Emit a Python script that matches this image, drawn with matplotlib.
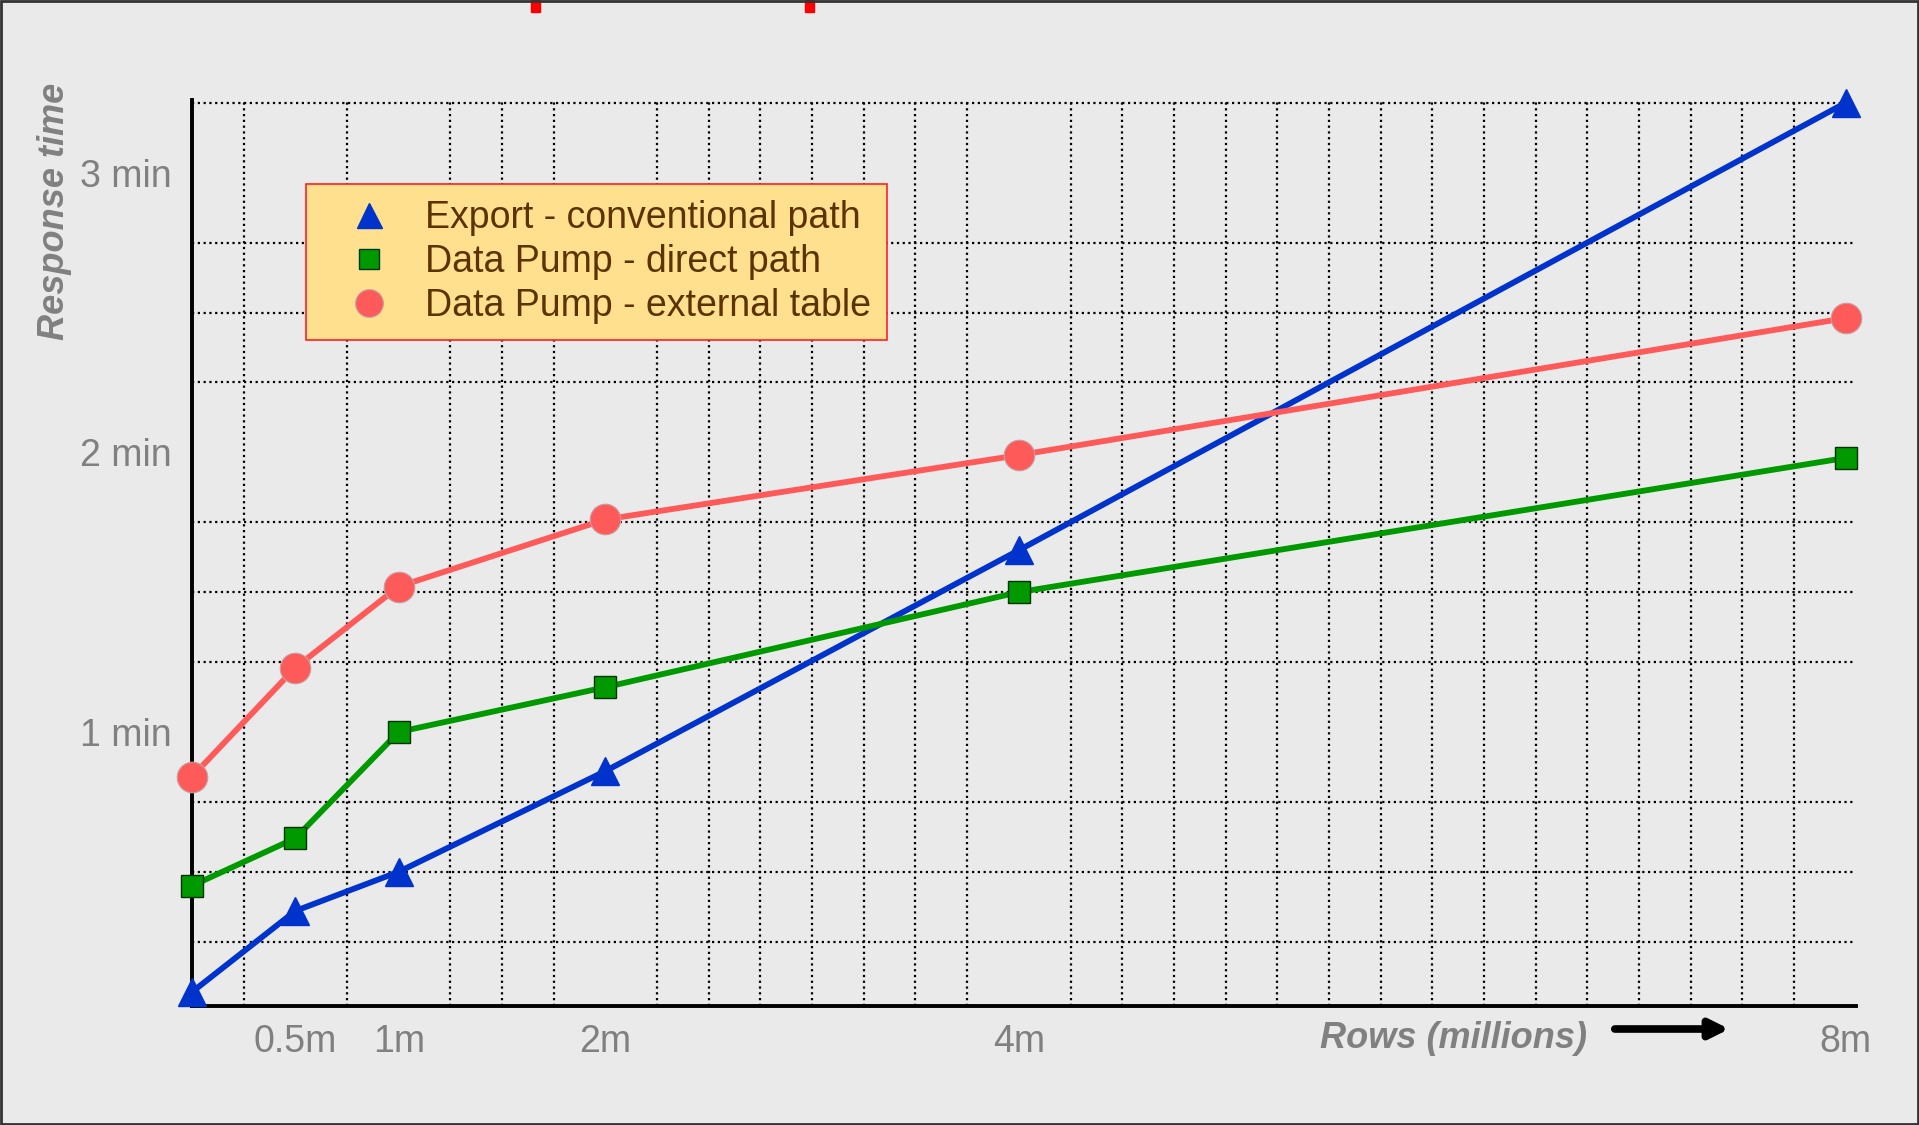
import numpy as np
import matplotlib
matplotlib.use("Agg")
import matplotlib.pyplot as plt
from matplotlib.lines import Line2D
from matplotlib.patches import Rectangle

plt.rcParams['font.family'] = ['Liberation Sans', 'DejaVu Sans']

# data (rows in millions, response time in minutes)
rows = [0, 0.5, 1, 2, 4, 8]
export_conv = [0.07, 0.36, 0.50, 0.86, 1.65, 3.25]
dp_direct = [0.45, 0.62, 1.00, 1.16, 1.50, 1.98]
dp_external = [0.84, 1.23, 1.52, 1.76, 1.99, 2.48]

x_ticks = [0.5, 1, 2, 4, 8]
x_labels = ["0.5m", "1m", "2m", "4m", "8m"]
y_ticks = [1, 2, 3]
y_labels = ["1 min", "2 min", "3 min"]

series_labels = ["Export - conventional path",
                 "Data Pump - direct path",
                 "Data Pump - external table"]

bg = '#EAEAEA'
blue = '#0033CC'
green = '#009900'
red = '#FF5A5A'
gray = '#808080'

fig = plt.figure(figsize=(19.19, 11.25), dpi=100, facecolor=bg)
ax = fig.add_axes([192/1919, 1-1006/1125, (1856-192)/1919, (1006-100)/1125])
ax.set_facecolor(bg)

ax.plot(rows, export_conv, color=blue, lw=4.2, marker='^', ms=20,
        mec=blue, zorder=5, clip_on=False)
ax.plot(rows, dp_direct, color=green, lw=4.2, marker='s', ms=16,
        mec='#003300', mew=1.0, zorder=5, clip_on=False)
ax.plot(rows, dp_external, color=red, lw=4.2, marker='o', ms=22,
        mec='#c8a0a0', mew=0.8, zorder=5, clip_on=False)

ax.set_xlim(0, 8.05)
ax.set_ylim(0.02, 3.26)

# dotted grid on a 0.25 step
ax.set_xticks(np.arange(0.25, 8.01, 0.25), minor=True)
ax.set_yticks(np.arange(0.25, 3.26, 0.25), minor=True)
ax.grid(which='minor', color='black', linestyle=(0, (1, 1.6)), linewidth=1.6)
ax.set_axisbelow(True)

ax.set_xticks(x_ticks)
ax.set_xticklabels(x_labels)
ax.set_yticks(y_ticks)
ax.set_yticklabels(y_labels)
ax.tick_params(which='both', length=0)
ax.tick_params(axis='x', labelsize=27, labelcolor=gray, pad=13)
ax.tick_params(axis='y', labelsize=27, labelcolor=gray, pad=15)

for s in ['top', 'right']:
    ax.spines[s].set_visible(False)
for s in ['left', 'bottom']:
    ax.spines[s].set_color('black')
    ax.spines[s].set_linewidth(2.8)

handles = [
    Line2D([], [], ls='none', marker='^', ms=18, color=blue),
    Line2D([], [], ls='none', marker='s', ms=15, color=green, mec='#003300', mew=1.0),
    Line2D([], [], ls='none', marker='o', ms=20, color=red, mec='#c8a0a0', mew=0.8),
]
leg = fig.legend(handles, series_labels, loc='upper left',
                 bbox_to_anchor=(306/1919, 1-184/1125),
                 bbox_transform=fig.transFigure, borderaxespad=0,
                 fontsize=27, labelcolor='#5C3300', fancybox=False,
                 facecolor='#FFE08F', edgecolor='#FF2020', framealpha=1,
                 borderpad=0.42, labelspacing=0.22, handlelength=2.5,
                 handletextpad=0.25)
leg.get_frame().set_linewidth(1.2)

fig.text(55/1919, 1-211/1125, "Response time", rotation=90, ha='center',
         va='center', fontsize=26, fontweight='bold', fontstyle='italic',
         color=gray)
fig.text(1453/1919, 1-1038/1125, "Rows (millions)", ha='center', va='center',
         fontsize=26, fontweight='bold', fontstyle='italic', color=gray)
ax.annotate("", xy=(1732/1919, 1-1029/1125), xytext=(1612/1919, 1-1029/1125),
            xycoords='figure fraction', textcoords='figure fraction',
            arrowprops=dict(arrowstyle='-|>,head_length=1.1,head_width=0.55',
                            color='black', lw=5.5), annotation_clip=False)

# red fragments cut off at the top edge, and the slide border
fig.patches.append(Rectangle((531/1919, 1-12/1125), 9/1919, 12/1125,
                             transform=fig.transFigure, color='#FF0000'))
fig.patches.append(Rectangle((805/1919, 1-12/1125), 9/1919, 12/1125,
                             transform=fig.transFigure, color='#FF0000'))
fig.patches.append(Rectangle((0.0005, 0.0008), 0.999, 0.998, fill=False,
                             transform=fig.transFigure, edgecolor='#333333',
                             linewidth=2))

fig.savefig('out.png', dpi=100, facecolor=bg)
